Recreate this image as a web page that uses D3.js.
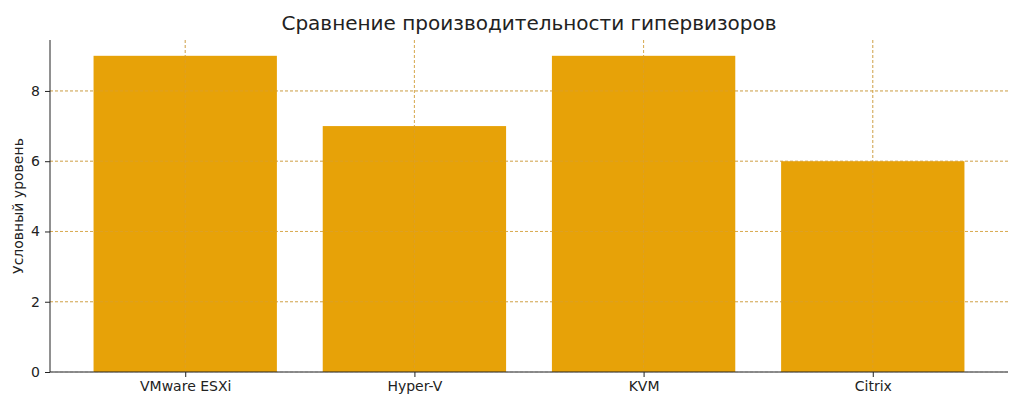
<!DOCTYPE html>
<html><head><meta charset="utf-8">
<script src="https://cdn.jsdelivr.net/npm/d3@7"></script>
<style>body{margin:0;background:#fff}svg{font-family:"DejaVu Sans",sans-serif}</style>
</head><body><svg id="c" width="1024" height="410"></svg>
<script>
const categories=["VMware ESXi","Hyper-V","KVM","Citrix"];
const values=[9,7,9,6];
const yTicks=[0,2,4,6,8];
const title="Сравнение производительности гипервизоров";
const yLabel="Условный уровень";

const svg=d3.select("#c");
const L=50,R=1008,T=40,B=372;
const x=d3.scaleLinear().domain([-0.59,3.59]).range([L,R]);
const y=d3.scaleLinear().domain([0,9.45]).range([B,T]);
const g=svg.append("g");
// grid
g.selectAll(".gy").data(yTicks).join("line").attr("x1",L).attr("x2",R)
 .attr("y1",d=>y(d)).attr("y2",d=>y(d)).attr("stroke","#d0d0d0").attr("stroke-dasharray","3,2").attr("stroke-width",0.8);
g.selectAll(".gx").data(categories).join("line").attr("y1",T).attr("y2",B)
 .attr("x1",(d,i)=>x(i)).attr("x2",(d,i)=>x(i)).attr("stroke","#d0d0d0").attr("stroke-dasharray","3,2").attr("stroke-width",0.8);
// bars
g.selectAll("rect").data(values).join("rect")
 .attr("x",(d,i)=>x(i-0.4)).attr("width",(d,i)=>x(i+0.4)-x(i-0.4))
 .attr("y",d=>y(d)).attr("height",d=>B-y(d)).attr("fill","#E69F00").attr("opacity",0.97);
// grid over bars like matplotlib? draw again lightly
g.selectAll(".gx2").data(categories).join("line").attr("y1",T).attr("y2",B)
 .attr("x1",(d,i)=>x(i)).attr("x2",(d,i)=>x(i)).attr("stroke","#d9a030").attr("stroke-dasharray","3,2").attr("stroke-width",0.8);
g.selectAll(".gy2").data(yTicks.slice(1)).join("line").attr("x1",L).attr("x2",R)
 .attr("y1",d=>y(d)).attr("y2",d=>y(d)).attr("stroke","#d9a030").attr("stroke-dasharray","3,2").attr("stroke-width",0.8);
// axes
const ya=svg.append("g").attr("transform",`translate(${L},0)`).call(d3.axisLeft(y).tickValues(yTicks).tickSize(5).tickPadding(5));
const xa=svg.append("g").attr("transform",`translate(0,${B})`).call(d3.axisBottom(x).tickValues([0,1,2,3]).tickFormat(i=>categories[i]).tickSize(5).tickPadding(4));
[ya,xa].forEach(a=>{a.selectAll("text").attr("font-size",14).attr("fill","#222").attr("font-family","DejaVu Sans");a.selectAll("line,path").attr("stroke","#222");});
ya.select(".domain").attr("d",`M0,${T}V${B}`);
xa.select(".domain").attr("d",`M${L},0H${R}`);
svg.append("text").attr("x",(L+R)/2).attr("y",30).attr("text-anchor","middle").attr("font-size",20).attr("fill","#222").text(title);
svg.append("text").attr("transform",`translate(23,${(T+B)/2}) rotate(-90)`).attr("text-anchor","middle").attr("font-size",14).attr("fill","#222").text(yLabel);
</script></body></html>
